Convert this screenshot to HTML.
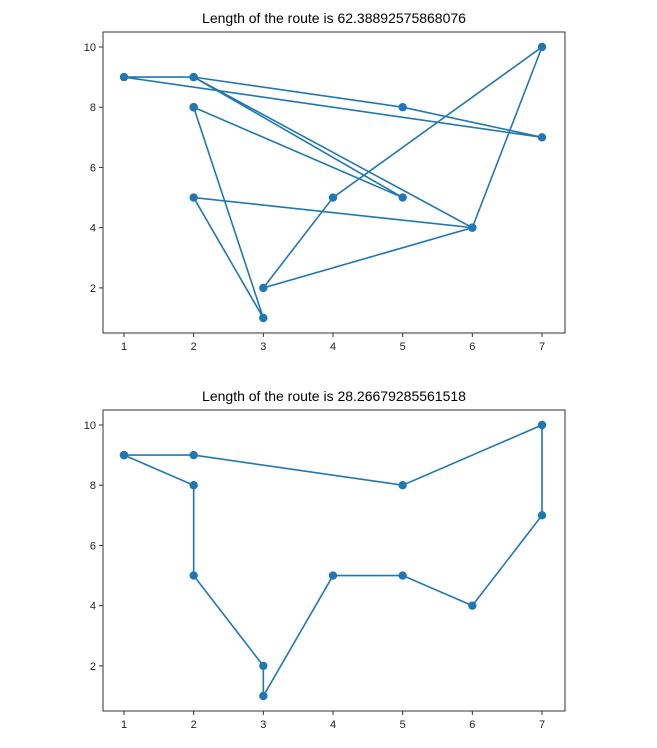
<!DOCTYPE html>
<html><head><meta charset="utf-8"><style>
body{margin:0;background:#fff;width:657px;height:743px;overflow:hidden}
svg{font-family:"Liberation Sans","DejaVu Sans",sans-serif}
</style></head><body>
<svg id="c" width="657" height="743"></svg>
<script>
const xTicks=[1,2,3,4,5,6,7];
const yTicks=[2,4,6,8,10];
const routeXTop=[2,3,2,6,7,4,3,6,2,1,7,5,2,5,2];
const routeYTop=[8,1,5,4,10,5,2,4,9,9,7,8,9,5,8];
const routeXBottom=[1,2,5,7,7,6,5,4,3,3,2,2,1];
const routeYBottom=[9,9,8,10,7,4,5,5,1,2,5,8,9];
const titles=["Length of the route is 62.38892575868076","Length of the route is 28.26679285561518"];
const NS="http://www.w3.org/2000/svg";
const svg=document.getElementById('c');
function mk(t,a,p){const e=document.createElementNS(NS,t);for(const k in a)e.setAttribute(k,a[k]);(p||svg).appendChild(e);return e;}
function plot(top,xs,ys,title,idx){
  const L=103,R=565,T=top,B=top+301;
  const sx=v=>124+(v-1)*(542-124)/6;
  const sy=v=>(top+15)+(10-v)*(271/9);
  const g=mk('g',{});
  
  
  const fr=mk('rect',{x:L,y:T,width:R-L,height:B-T,fill:'none',stroke:'#333','stroke-width':1},g);
  
  
  const tt=mk('text',{x:(L+R)/2,y:T-9,'text-anchor':'middle','font-size':14,fill:'#000'},g);
  tt.textContent=title;
  
  
  xTicks.forEach(v=>{
    mk('line',{x1:sx(v),x2:sx(v),y1:B,y2:B+4,stroke:'#333'},g);
    const t=mk('text',{x:sx(v),y:B+17,'text-anchor':'middle','font-size':11,fill:'#222'},g);
    t.textContent=v;
    
    
  });
  yTicks.forEach(v=>{
    mk('line',{x1:L-4,x2:L,y1:sy(v),y2:sy(v),stroke:'#333'},g);
    const t=mk('text',{x:L-7,y:sy(v)+4,'text-anchor':'end','font-size':11,fill:'#222'},g);
    t.textContent=v;
    
    
  });
  const pts=xs.map((x,i)=>sx(x)+','+sy(ys[i])).join(' ');
  const pl=mk('polyline',{points:pts,fill:'none',stroke:'#1f77b4','stroke-width':1.6},g);
  
  
  xs.forEach((x,i)=>{
    const c=mk('circle',{cx:sx(x),cy:sy(ys[i]),r:4.2,fill:'#1f77b4'},g);
    
    
  });
}
plot(32,routeXTop,routeYTop,titles[0],'top');
plot(410,routeXBottom,routeYBottom,titles[1],'bottom');
</script>
</body></html>
